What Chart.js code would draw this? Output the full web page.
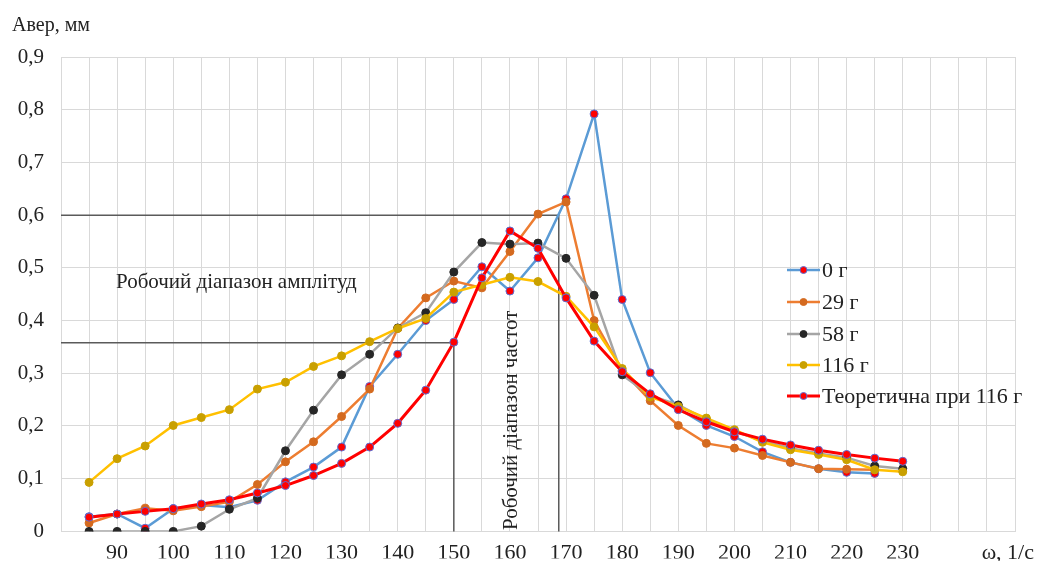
<!DOCTYPE html>
<html>
<head>
<meta charset="utf-8">
<script src="https://cdn.jsdelivr.net/npm/chart.js@4/dist/chart.umd.min.js"></script>
<style>
  html, body { margin: 0; padding: 0; background: #ffffff; }
  #chart { display: block; }
</style>
</head>
<body>
<canvas id="chart" width="1037" height="561"></canvas>
<script>
// ω, 1/с
const omega = [85, 90, 95, 100, 105, 110, 115, 120, 125, 130, 135, 140, 145, 150, 155,
               160, 165, 170, 175, 180, 185, 190, 195, 200, 205, 210, 215, 220, 225, 230];

// Авер, мм
const amp0 = [0.028, 0.033, 0.006, 0.043, 0.050, 0.046, 0.059, 0.094, 0.122, 0.160, 0.275, 0.336, 0.400, 0.440, 0.502,
              0.456, 0.519, 0.631, 0.792, 0.440, 0.301, 0.233, 0.201, 0.180, 0.151, 0.131, 0.119, 0.112, 0.110];
const amp29 = [0.016, 0.033, 0.044, 0.039, 0.047, 0.056, 0.089, 0.132, 0.170, 0.218, 0.270, 0.385, 0.443, 0.475, 0.462,
               0.531, 0.602, 0.625, 0.400, 0.305, 0.248, 0.201, 0.167, 0.158, 0.144, 0.131, 0.119, 0.118, 0.117];
const amp58 = [0, 0, 0, 0, 0.010, 0.042, 0.063, 0.153, 0.230, 0.297, 0.336, 0.386, 0.415, 0.492, 0.548,
               0.545, 0.547, 0.518, 0.448, 0.297, 0.258, 0.240, 0.212, 0.190, 0.172, 0.158, 0.148, 0.140, 0.124, 0.119];
const amp116 = [0.093, 0.138, 0.162, 0.201, 0.216, 0.231, 0.270, 0.283, 0.313, 0.333, 0.360, 0.385, 0.404, 0.454, 0.468,
                0.482, 0.474, 0.446, 0.388, 0.309, 0.255, 0.237, 0.215, 0.193, 0.169, 0.155, 0.146, 0.136, 0.117, 0.113];
const ampTheory = [0.027, 0.033, 0.038, 0.043, 0.052, 0.060, 0.073, 0.087, 0.106, 0.129, 0.160, 0.205, 0.268, 0.359, 0.481,
                   0.570, 0.537, 0.443, 0.361, 0.303, 0.261, 0.231, 0.208, 0.189, 0.175, 0.164, 0.154, 0.146, 0.139, 0.133];

// робочий діапазон: [ω, Авер]
const workLow = [150, 0.358];
const workHigh = [168.7, 0.6];

const xTickLabels = [90, 100, 110, 120, 130, 140, 150, 160, 170, 180, 190, 200, 210, 220, 230];

const serif = '"Liberation Serif", "Times New Roman", serif';
const textColor = '#222222';

function pts(values) {
    return values.map((v, i) => ({ x: omega[i], y: v }));
}

function series(label, values, line, fill, edge, width, order) {
    return {
        label: label,
        data: pts(values),
        borderColor: line,
        borderWidth: width,
        pointBackgroundColor: fill,
        pointBorderColor: edge,
        pointBorderWidth: 1,
        pointRadius: 4,
        pointHoverRadius: 4,
        tension: 0,
        fill: false,
        order: order
    };
}

const overlay = {
    id: 'overlay',
    beforeDatasetsDraw(chart) {
        const ctx = chart.ctx;
        const x = chart.scales.x, y = chart.scales.y;
        ctx.save();
        ctx.strokeStyle = '#5a5a5a';
        ctx.lineWidth = 1.5;
        [workLow, workHigh].forEach(w => {
            const px = x.getPixelForValue(w[0]);
            const py = y.getPixelForValue(w[1]);
            ctx.beginPath();
            ctx.moveTo(chart.chartArea.left, py);
            ctx.lineTo(px, py);
            ctx.lineTo(px, y.getPixelForValue(0));
            ctx.stroke();
        });
        ctx.restore();
    },
    afterDraw(chart) {
        const ctx = chart.ctx;
        ctx.save();
        ctx.fillStyle = textColor;
        ctx.textBaseline = 'middle';

        // axis titles
        ctx.font = '20px ' + serif;
        ctx.textAlign = 'left';
        ctx.fillText('Авер, мм', 12, 26);
        ctx.font = '22px ' + serif;
        ctx.textAlign = 'right';
        ctx.fillText('ω, 1/с', 1034, 553);

        // range captions
        ctx.font = '21px ' + serif;
        ctx.textAlign = 'left';
        ctx.fillText('Робочий діапазон амплітуд', 116, 282);
        ctx.save();
        ctx.translate(511, 530);
        ctx.rotate(-Math.PI / 2);
        ctx.fillText('Робочий діапазон частот', 0, 0);
        ctx.restore();

        // legend
        ctx.font = '22px ' + serif;
        const names = ['0 г', '29 г', '58 г', '116 г', 'Теоретична при 116 г'];
        const rows = [270, 302, 334, 365, 396];
        names.forEach((name, i) => {
            const ds = chart.data.datasets[i];
            const yy = rows[i];
            ctx.strokeStyle = ds.borderColor;
            ctx.lineWidth = ds.borderWidth;
            ctx.beginPath();
            ctx.moveTo(787, yy);
            ctx.lineTo(820, yy);
            ctx.stroke();
            ctx.beginPath();
            ctx.arc(803.5, yy, 3.5, 0, Math.PI * 2);
            ctx.fillStyle = ds.pointBackgroundColor;
            ctx.fill();
            ctx.lineWidth = 1;
            ctx.strokeStyle = ds.pointBorderColor;
            ctx.stroke();
            ctx.fillStyle = textColor;
            ctx.fillText(name, 822, yy + 1);
        });
        ctx.restore();
    }
};

new Chart(document.getElementById('chart').getContext('2d'), {
    type: 'line',
    data: {
        datasets: [
            series('0 г', amp0, '#5B9BD5', '#FF0000', '#5B6FD5', 2.5, 4),
            series('29 г', amp29, '#ED7D31', '#D46A1F', '#D46A1F', 2.5, 3),
            series('58 г', amp58, '#A5A5A5', '#262626', '#262626', 2.5, 2),
            series('116 г', amp116, '#FFC000', '#C9A000', '#C9A000', 2.5, 1),
            series('Теоретична при 116 г', ampTheory, '#FF0000', '#FF0000', '#5B6FD5', 3, 0)
        ]
    },
    options: {
        responsive: false,
        animation: false,
        devicePixelRatio: 1,
        layout: { padding: { left: 0, top: 57, right: 22, bottom: 0 } },
        plugins: {
            legend: { display: false },
            tooltip: { enabled: false }
        },
        scales: {
            x: {
                type: 'linear',
                min: 80,
                max: 250,
                afterFit(scale) { scale.height = 27; },
                grid: { color: '#D9D9D9', lineWidth: 1, drawTicks: false },
                border: { color: '#D9D9D9' },
                ticks: {
                    stepSize: 5,
                    autoSkip: false,
                    maxRotation: 0,
                    padding: 9,
                    color: textColor,
                    font: { family: serif, size: 22 },
                    callback: v => xTickLabels.includes(v) ? String(v) : ''
                }
            },
            y: {
                min: 0,
                max: 0.9,
                afterFit(scale) { scale.width = 61; },
                grid: { color: '#D9D9D9', lineWidth: 1, drawTicks: false },
                border: { color: '#D9D9D9' },
                ticks: {
                    stepSize: 0.1,
                    padding: 17,
                    color: textColor,
                    font: { family: serif, size: 21 },
                    callback: v => v === 0 ? '0' : v.toFixed(1).replace('.', ',')
                }
            }
        }
    },
    plugins: [overlay]
});
</script>
</body>
</html>
